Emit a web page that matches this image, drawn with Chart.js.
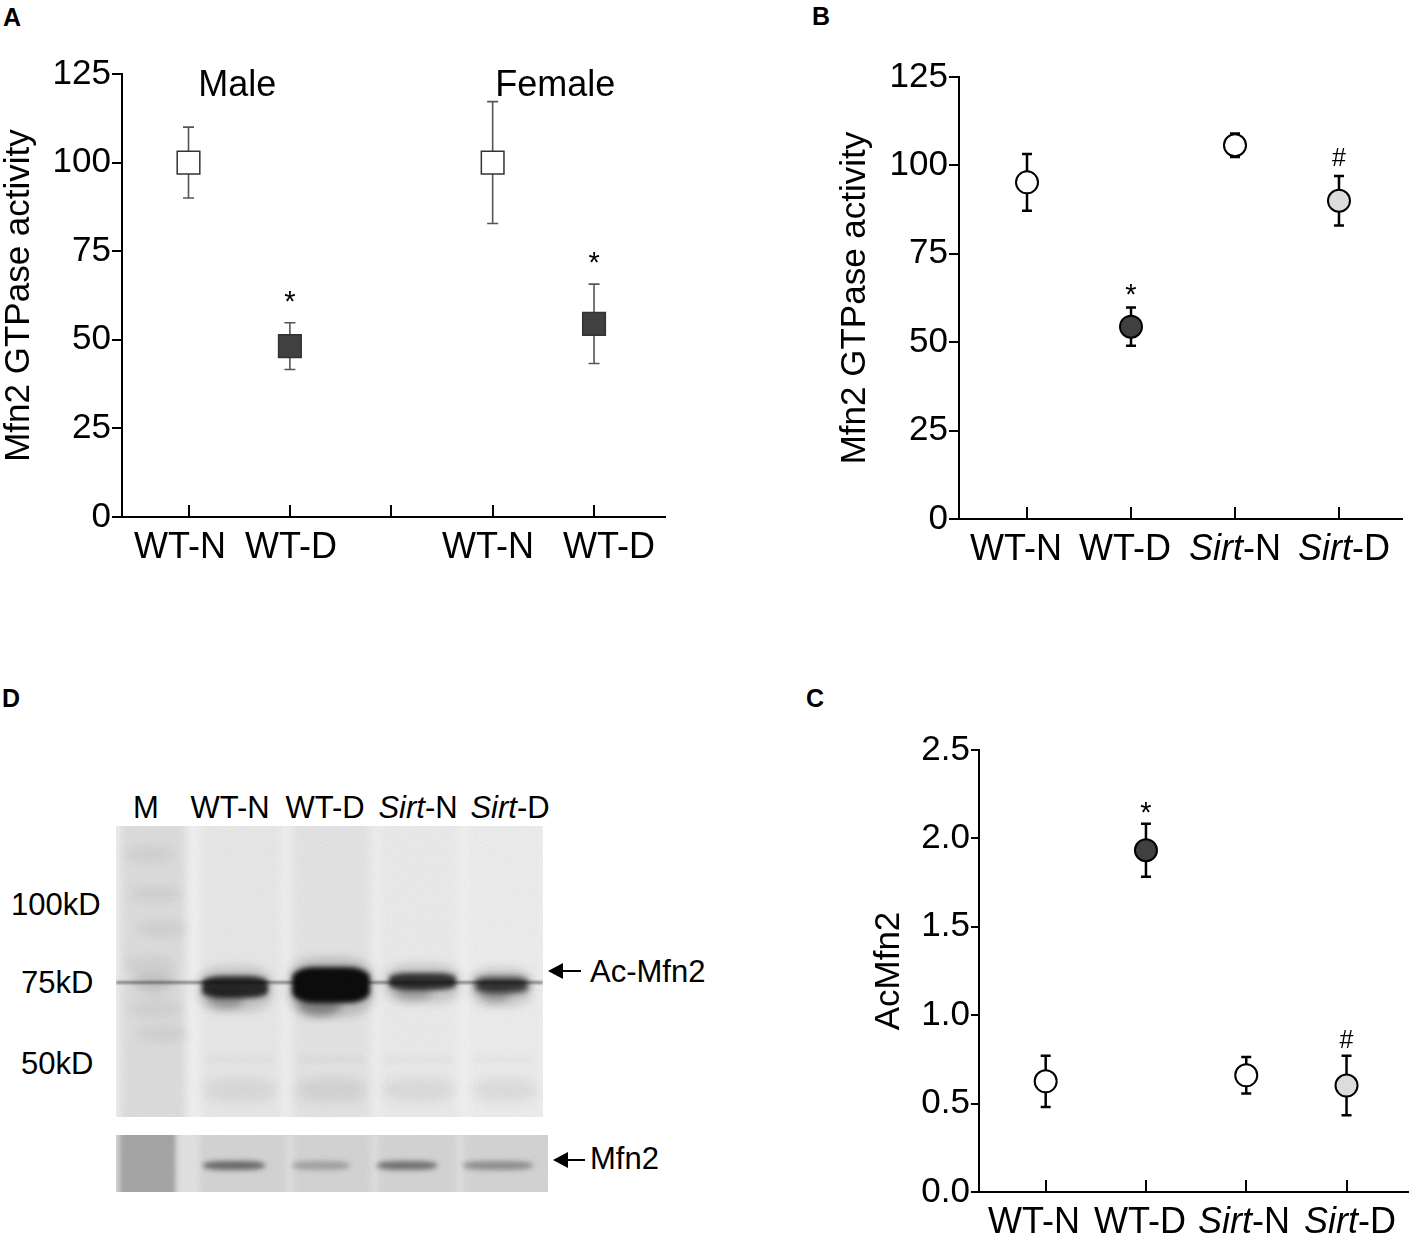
<!DOCTYPE html>
<html lang="en">
<head>
<meta charset="UTF-8">
<title>Mfn2 GTPase activity and Mfn2 acetylation</title>
<script src="https://cdn.jsdelivr.net/npm/chart.js"></script>
<style>
  body { margin: 0; background: #fff; width: 1421px; height: 1234px; position: relative; overflow: hidden;
         font-family: "Liberation Sans", Arial, sans-serif; color: #000; }
  .letter { position: absolute; font-weight: bold; font-size: 25px; line-height: 25px; }
  .box { position: absolute; }
  .txt { position: absolute; font-size: 31px; line-height: 31px; white-space: nowrap; }
  .blot { position: absolute; overflow: hidden; }
  .blot div { position: absolute; }
  .arrow-line { position: absolute; height: 2px; background: #000; }
  .arrow-head { position: absolute; width: 0; height: 0; border-top: 8px solid transparent;
                border-bottom: 8px solid transparent; border-right: 15px solid #000; }
</style>
</head>
<body>
<div class="letter" style="left:3px; top:5px;">A</div>
<div class="letter" style="left:812px; top:4px;">B</div>
<div class="letter" style="left:806px; top:686px;">C</div>
<div class="letter" style="left:2px; top:686px;">D</div>

<div class="box" style="left:0; top:40px; width:700px; height:560px;"><canvas id="chartA"></canvas></div>
<div class="box" style="left:820px; top:40px; width:601px; height:560px;"><canvas id="chartB"></canvas></div>
<div class="box" style="left:820px; top:700px; width:601px; height:534px;"><canvas id="chartC"></canvas></div>

<div id="panelD"></div>

<script>
// ---- Panel A: Mfn2 GTPase activity, male and female ----
const groupsA = [ 'Male', 'Female' ];
const labelsA = [ 'WT-N', 'WT-D', '', 'WT-N', 'WT-D' ];
const meansA = [ 100, 48.2, null, 100, 54.5 ];
const semA = [ 10, 6.6, null, 17.2, 11.2 ];
const signifA = [ '', '*', '', '', '*' ];

// ---- Panel B: Mfn2 GTPase activity, WT vs Sirt ----
const labelsB = [ 'WT-N', 'WT-D', 'Sirt-N', 'Sirt-D' ];
const meansB = [ 95.2, 54.4, 105.7, 90 ];
const semB = [ 8, 5.4, 3.3, 7 ];
const signifB = [ '', '*', '', '#' ];

// ---- Panel C: AcMfn2 ----
const labelsC = [ 'WT-N', 'WT-D', 'Sirt-N', 'Sirt-D' ];
const meansC = [ 0.626, 1.933, 0.66, 0.602 ];
const semC = [ 0.145, 0.15, 0.103, 0.168 ];
const signifC = [ '', '*', '', '#' ];

const yTicksAB = [ 0, 25, 50, 75, 100, 125 ];
const yTicksC = [ 0, 0.5, 1.0, 1.5, 2.0, 2.5 ];

// ---- Panel D: western blot ----
const laneLabels = [ 'M', 'WT-N', 'WT-D', 'Sirt-N', 'Sirt-D' ];
const sizeMarkers = [ '100kD', '75kD', '50kD' ];
const acMfn2Density = [ 0.12, 0.85, 1.0, 0.8, 0.78 ];
const mfn2Density = [ 0, 0.55, 0.25, 0.5, 0.35 ];

const FONT = '"Liberation Sans", Arial, sans-serif';
Chart.defaults.font.family = FONT;
Chart.defaults.color = '#000';

// error bars drawn under the markers
function errorBars( means, sem, style ) {
    return {
        id: 'errorBars',
        beforeDatasetsDraw( chart ) {
            const { ctx, scales: { x, y } } = chart;
            ctx.save();
            ctx.strokeStyle = style.color;
            ctx.lineWidth = style.width;
            means.forEach( ( m, i ) => {
                if ( m === null ) return;
                const px = x.getPixelForValue( i + 1 );
                const top = y.getPixelForValue( m + sem[ i ] );
                const bot = y.getPixelForValue( m - sem[ i ] );
                const c = style.cap / 2;
                ctx.beginPath();
                ctx.moveTo( px, top ); ctx.lineTo( px, bot );
                ctx.moveTo( px - c, top ); ctx.lineTo( px + c, top );
                ctx.moveTo( px - c, bot ); ctx.lineTo( px + c, bot );
                ctx.stroke();
            } );
            ctx.restore();
        }
    };
}

// * and # over the error bars
function signifMarks( means, sem, marks, gap ) {
    return {
        id: 'signifMarks',
        afterDatasetsDraw( chart ) {
            const { ctx, scales: { x, y } } = chart;
            ctx.save();
            ctx.textAlign = 'center';
            ctx.textBaseline = 'middle';
            marks.forEach( ( s, i ) => {
                if ( !s ) return;
                const px = x.getPixelForValue( i + 1 );
                const top = y.getPixelForValue( means[ i ] + sem[ i ] );
                ctx.font = ( s === '*' ? '29px ' : '25px ' ) + FONT;
                ctx.fillText( s, px, top - gap + ( s === '*' ? 5 : 0 ) );
            } );
            ctx.restore();
        }
    };
}

function drawRichLabel( ctx, text, cx, cy, size ) {
    const parts = text.startsWith( 'Sirt' ) ? [ [ 'Sirt', 'italic ' ], [ text.slice( 4 ), '' ] ] : [ [ text, '' ] ];
    let total = 0;
    const widths = parts.map( p => {
        ctx.font = p[ 1 ] + size + 'px ' + FONT;
        const w = ctx.measureText( p[ 0 ] ).width;
        total += w;
        return w;
    } );
    let xx = cx - total / 2;
    ctx.textAlign = 'left';
    ctx.textBaseline = 'middle';
    parts.forEach( ( p, i ) => {
        ctx.font = p[ 1 ] + size + 'px ' + FONT;
        ctx.fillText( p[ 0 ], xx, cy );
        xx += widths[ i ];
    } );
}

// inward x ticks and category labels
function categoryAxis( labels, nudge, tickLen ) {
    return {
        id: 'categoryAxis',
        afterDraw( chart ) {
            const { ctx, scales: { x } } = chart;
            const base = chart.chartArea.bottom;
            ctx.save();
            ctx.strokeStyle = '#000';
            ctx.lineWidth = 2;
            ctx.fillStyle = '#000';
            labels.forEach( ( lab, i ) => {
                const px = Math.round( x.getPixelForValue( i + 1 ) );
                ctx.beginPath();
                ctx.moveTo( px, base );
                ctx.lineTo( px, base - tickLen );
                ctx.stroke();
                if ( lab ) drawRichLabel( ctx, lab, px + nudge[ i ], base + 31, 36 );
            } );
            ctx.restore();
        }
    };
}

function groupTitles( groups, centers, nudge ) {
    return {
        id: 'groupTitles',
        afterDraw( chart ) {
            const { ctx, scales: { x } } = chart;
            ctx.save();
            ctx.font = '36px ' + FONT;
            ctx.textAlign = 'center';
            ctx.textBaseline = 'middle';
            groups.forEach( ( g, i ) => {
                ctx.fillText( g, x.getPixelForValue( centers[ i ] ) + nudge[ i ], chart.chartArea.top + 12 );
            } );
            ctx.restore();
        }
    };
}

function makeChart( id, o ) {
    const pts = o.means.map( ( m, i ) => ( { x: i + 1, y: m } ) ).filter( p => p.y !== null );
    const fills = o.fills.filter( ( f, i ) => o.means[ i ] !== null );
    return new Chart( document.getElementById( id ), {
        type: 'scatter',
        data: {
            datasets: [ {
                data: pts,
                pointStyle: o.pointStyle,
                pointRadius: o.pointRadius,
                pointHoverRadius: o.pointRadius,
                pointBackgroundColor: fills,
                pointBorderColor: o.pointBorder,
                pointBorderWidth: o.pointBorderWidth,
                showLine: false
            } ]
        },
        options: {
            responsive: true,
            maintainAspectRatio: false,
            animation: false,
            events: [],
            layout: { padding: o.padding },
            plugins: { legend: { display: false }, tooltip: { enabled: false } },
            scales: {
                x: {
                    type: 'linear',
                    min: o.xMin, max: o.xMax,
                    afterBuildTicks: s => { s.ticks = o.labels.map( ( _, i ) => ( { value: i + 1 } ) ); },
                    afterFit: s => { s.height = o.xHeight; s.paddingLeft = 0; s.paddingRight = 0; },
                    grid: { display: false },
                    border: { display: true, color: '#000', width: 2 },
                    ticks: { display: false }
                },
                y: {
                    min: o.yTicks[ 0 ], max: o.yTicks[ o.yTicks.length - 1 ],
                    afterBuildTicks: s => { s.ticks = o.yTicks.map( v => ( { value: v } ) ); },
                    afterFit: s => { s.width = o.yWidth; s.paddingTop = 0; s.paddingBottom = 0; },
                    grid: { drawOnChartArea: false, drawTicks: true, tickLength: o.yTickLen, color: '#000', lineWidth: 2 },
                    border: { display: true, color: '#000', width: 2 },
                    ticks: {
                        color: '#000', padding: 1, font: { size: 35 },
                        callback: v => o.decimals ? Number( v ).toFixed( o.decimals ) : v
                    },
                    title: {
                        display: true, text: o.yTitle, color: '#000', font: { size: 35 },
                        padding: { top: o.titlePad, bottom: 0 }
                    }
                }
            }
        },
        plugins: o.plugins
    } );
}

makeChart( 'chartA', {
    means: meansA, labels: labelsA,
    fills: [ '#ffffff', '#404040', null, '#ffffff', '#404040' ],
    pointStyle: 'rect', pointRadius: 16, pointBorder: '#333', pointBorderWidth: 1.5,
    padding: { left: 0, right: 35, top: 34, bottom: 0 },
    xMin: 0.344, xMax: 5.70, xHeight: 83, yWidth: 122, yTickLen: 10, titlePad: -2,
    yTicks: yTicksAB, yTitle: 'Mfn2 GTPase activity',
    plugins: [
        errorBars( meansA, semA, { color: '#555', width: 1.6, cap: 11 } ),
        signifMarks( meansA, semA, signifA, 25 ),
        categoryAxis( labelsA, [ -9, 1, 0, -5, 15 ], 12 ),
        groupTitles( groupsA, [ 1.5, 4.5 ], [ -2, 12 ] )
    ]
} );

makeChart( 'chartB', {
    means: meansB, labels: labelsB,
    fills: [ '#ffffff', '#404040', '#ffffff', '#dcdcdc' ],
    pointStyle: 'circle', pointRadius: 11, pointBorder: '#000', pointBorderWidth: 2,
    padding: { left: 0, right: 19, top: 37, bottom: 0 },
    xMin: 0.346, xMax: 4.606, xHeight: 81, yWidth: 139, yTickLen: 10, titlePad: 14,
    yTicks: yTicksAB, yTitle: 'Mfn2 GTPase activity',
    plugins: [
        errorBars( meansB, semB, { color: '#000', width: 2.5, cap: 10 } ),
        signifMarks( meansB, semB, signifB, 17 ),
        categoryAxis( labelsB, [ -11, -6, 0, 5 ], 12 )
    ]
} );

makeChart( 'chartC', {
    means: meansC, labels: labelsC, decimals: 1,
    fills: [ '#ffffff', '#404040', '#ffffff', '#dcdcdc' ],
    pointStyle: 'circle', pointRadius: 11, pointBorder: '#000', pointBorderWidth: 2,
    padding: { left: 0, right: 0, top: 50, bottom: 0 },
    xMin: 0.335, xMax: 4.613, xHeight: 42, yWidth: 159, yTickLen: 8, titlePad: 48,
    yTicks: yTicksC, yTitle: 'AcMfn2',
    plugins: [
        errorBars( meansC, semC, { color: '#000', width: 2.5, cap: 10 } ),
        signifMarks( meansC, semC, signifC, 15 ),
        categoryAxis( labelsC, [ -12, -6, -2, 3 ], 12 )
    ]
} );

// ---- Panel D drawing ----
function el( parent, cls, css, html ) {
    const d = document.createElement( 'div' );
    if ( cls ) d.className = cls;
    d.style.cssText = css;
    if ( html !== undefined ) d.innerHTML = html;
    parent.appendChild( d );
    return d;
}

( function buildBlot() {
    const D = document.getElementById( 'panelD' );
    const noise = "url(\"data:image/svg+xml;utf8,<svg xmlns='http://www.w3.org/2000/svg' width='160' height='160'><filter id='n'><feTurbulence type='fractalNoise' baseFrequency='0.85' numOctaves='2' seed='3'/><feColorMatrix values='0 0 0 0 0  0 0 0 0 0  0 0 0 0 0  0 0 0 0.22 0'/></filter><rect width='100%' height='100%' filter='url(%23n)'/></svg>\")";

    // lane labels above the blot
    const laneCenters = [ 146, 230, 325, 418, 510 ];
    laneLabels.forEach( ( t, i ) => {
        const html = t.startsWith( 'Sirt' ) ? '<i>Sirt</i>' + t.slice( 4 ) : t;
        el( D, 'txt', `left:${ laneCenters[ i ] - 60 }px; width:120px; text-align:center; top:${ 807 - 15 }px;`, html );
    } );
    // size markers
    const markerPos = [ [ 11, 904 ], [ 21, 982 ], [ 21, 1063 ] ];
    sizeMarkers.forEach( ( t, i ) => {
        el( D, 'txt', `left:${ markerPos[ i ][ 0 ] }px; top:${ markerPos[ i ][ 1 ] - 15 }px;`, t );
    } );

    // main blot (Ac-Mfn2)
    const main = el( D, 'blot', 'left:116px; top:826px; width:427px; height:291px; background:#f5f5f5;' );
    const lanes = [ [ 4, 70, 0.08 ], [ 84, 165, 0.035 ], [ 176, 255, 0.05 ], [ 263, 342, 0.025 ], [ 353, 425, 0.015 ] ];
    lanes.forEach( l => {
        el( main, '', `left:${ l[ 0 ] }px; top:-10px; width:${ l[ 1 ] - l[ 0 ] }px; height:310px; background:rgba(0,0,0,${ l[ 2 ] }); filter:blur(4px);` );
    } );
    // haze near the bottom of each sample lane
    lanes.slice( 1 ).forEach( ( l, i ) => {
        el( main, '', `left:${ l[ 0 ] + 4 }px; top:252px; width:${ l[ 1 ] - l[ 0 ] - 8 }px; height:24px; border-radius:40%; background:rgba(0,0,0,${ 0.03 + 0.04 * acMfn2Density[ i + 1 ] }); filter:blur(6px);` );
        el( main, '', `left:${ l[ 0 ] + 6 }px; top:231px; width:${ l[ 1 ] - l[ 0 ] - 12 }px; height:5px; background:rgba(0,0,0,0.04); filter:blur(3px);` );
    } );
    // soft smudges in the marker lane
    [ 20, 60, 95, 130, 175, 200 ].forEach( ( y, i ) => {
        el( main, '', `left:${ 8 + ( i % 3 ) * 6 }px; top:${ y }px; width:52px; height:16px; border-radius:50%; background:rgba(0,0,0,0.05); filter:blur(5px);` );
    } );
    // thin line across at ~75 kD
    el( main, '', 'left:0; top:155px; width:427px; height:3px; background:rgba(0,0,0,0.4); filter:blur(1.2px);' );
    // Ac-Mfn2 bands: dark core plus fuzzy halo
    const bands = [ [ 20, 56, 150, 10 ], [ 86, 152, 150, 22 ], [ 176, 254, 141, 36 ], [ 273, 340, 147, 17 ], [ 359, 412, 151, 16 ] ];
    bands.forEach( ( b, i ) => {
        const a = acMfn2Density[ i ];
        const w = b[ 1 ] - b[ 0 ];
        el( main, '', `left:${ b[ 0 ] - 4 }px; top:${ b[ 2 ] - 9 }px; width:${ w + 8 }px; height:${ b[ 3 ] + 22 }px; border-radius:35%; background:rgba(0,0,0,${ a * 0.18 }); filter:blur(5px);` );
        el( main, '', `left:${ b[ 0 ] + 6 }px; top:${ b[ 2 ] + b[ 3 ] * 0.6 }px; width:${ w * 0.55 }px; height:${ b[ 3 ] * 0.6 + 6 }px; border-radius:45%; background:rgba(0,0,0,${ a * 0.3 }); filter:blur(4px);` );
        el( main, '', `left:${ b[ 0 ] }px; top:${ b[ 2 ] }px; width:${ w }px; height:${ b[ 3 ] }px; border-radius:30%; background:rgba(12,12,12,${ a }); filter:blur(${ 2.5 + 2 * ( 1 - a ) }px);` );
    } );
    el( main, '', `left:0; top:0; width:427px; height:291px; background-image:${ noise }; opacity:0.3;` );

    // lower strip (Mfn2)
    const strip = el( D, 'blot', 'left:116px; top:1135px; width:432px; height:57px; background:#d8d8d8;' );
    el( strip, '', 'left:4px; top:-5px; width:56px; height:70px; background:#a9a9a9; filter:blur(2px);' );
    el( strip, '', 'left:62px; top:-5px; width:22px; height:70px; background:#e6e6e6; filter:blur(3px);' );
    [ 170, 255, 340 ].forEach( x => {
        el( strip, '', `left:${ x }px; top:-5px; width:8px; height:70px; background:#e4e4e4; filter:blur(3px);` );
    } );
    const mbands = [ [ 87, 149 ], [ 176, 234 ], [ 261, 321 ], [ 347, 417 ] ];
    mbands.forEach( ( b, i ) => {
        const a = mfn2Density[ i + 1 ];
        el( strip, '', `left:${ b[ 0 ] }px; top:26px; width:${ b[ 1 ] - b[ 0 ] }px; height:9px; border-radius:40%; background:rgba(20,20,20,${ a }); filter:blur(2.5px);` );
    } );
    el( strip, '', `left:0; top:0; width:432px; height:57px; background-image:${ noise }; opacity:0.3;` );

    // arrows and labels
    el( D, 'arrow-head', 'left:548px; top:963px;' );
    el( D, 'arrow-line', 'left:560px; top:970px; width:21px;' );
    el( D, 'txt', 'left:590px; top:956px;', 'Ac-Mfn2' );
    el( D, 'arrow-head', 'left:553px; top:1152px;' );
    el( D, 'arrow-line', 'left:565px; top:1159px; width:20px;' );
    el( D, 'txt', 'left:590px; top:1143px;', 'Mfn2' );
} )();
</script>
</body>
</html>
